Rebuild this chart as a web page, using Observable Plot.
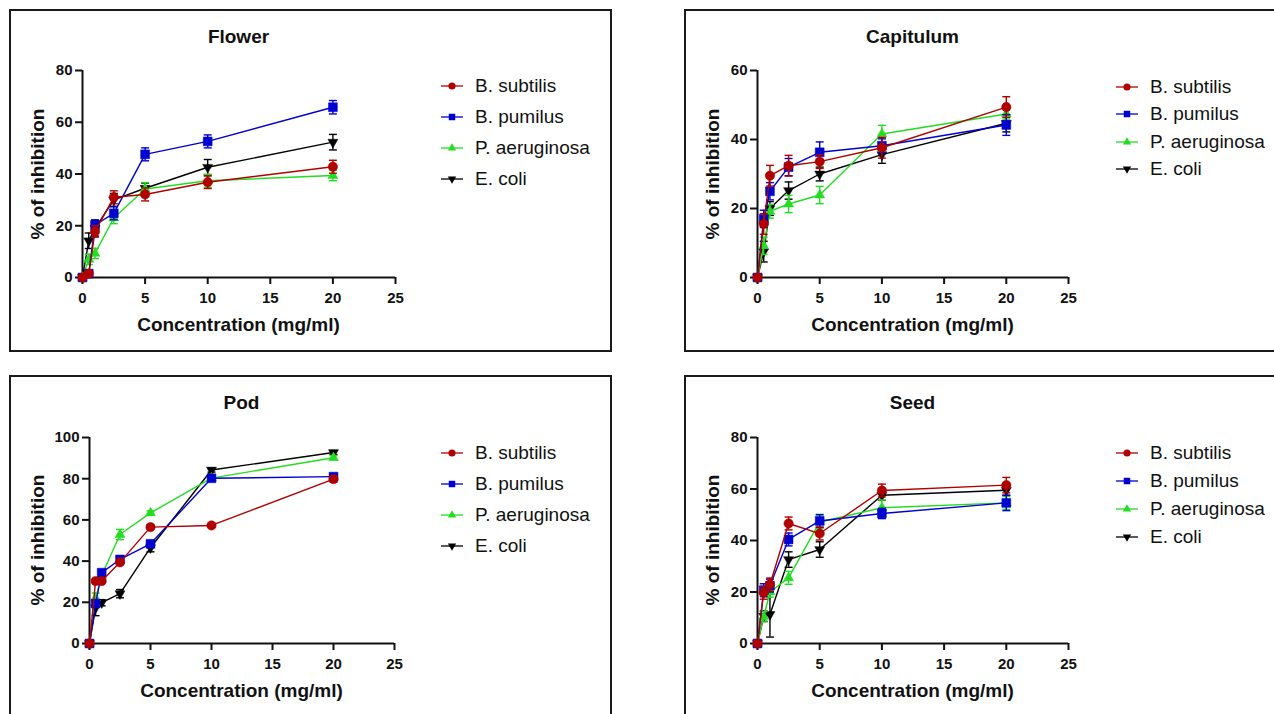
<!DOCTYPE html>
<html>
<head>
<meta charset="utf-8">
<script src="https://cdn.jsdelivr.net/npm/d3@7"></script>
<script src="https://cdn.jsdelivr.net/npm/@observablehq/plot@0.6"></script>
<style>
  body { margin:0; width:1274px; height:714px; overflow:hidden; background:#fff; font-family:"Liberation Sans", Arial, sans-serif; position:relative; }
  .box { position:absolute; border:2px solid #1a1a1a; box-sizing:border-box; width:603px; height:343px; }
  .lbl { position:absolute; white-space:nowrap; color:#111; transform:translate(-50%,-50%); }
  .title { font-weight:bold; font-size:19px; }
  .axt { font-weight:bold; font-size:19px; }
  .leg { position:absolute; white-space:nowrap; font-size:19px; color:#111; transform:translateY(-50%); }
  .sw { position:absolute; transform:translate(-50%,-50%); }
</style>
</head>
<body>
<script>
// ---- data ----
const concentrations = [0, 0.5, 1, 2.5, 5, 10, 20];
const seriesNames = ["B. subtilis", "B. pumilus", "P. aeruginosa", "E. coli"];
const seriesColors = ["#b00000", "#0000d0", "#22dd22", "#000000"];
const panelTitles = ["Flower", "Capitulum", "Pod", "Seed"];
const xTicks = [0, 5, 10, 15, 20, 25];
const xLabel = "Concentration (mg/ml)";
const yLabel = "% of inhibition";

const flowerMean = [
  [0, 1.5, 17.8, 31.0, 32.1, 36.8, 42.8],
  [0, 1.5, 20.3, 24.8, 47.6, 52.6, 65.8],
  [0, 7.0, 9.3, 23.0, 34.2, 37.4, 39.4],
  [0, 14.2, 19.0, 30.0, 34.5, 42.6, 52.3]
];
const flowerSD = [
  [0, 0.8, 2.2, 2.5, 2.5, 2.4, 2.5],
  [0, 0.8, 2.0, 2.5, 2.5, 2.5, 2.6],
  [0, 2.0, 2.0, 2.2, 2.5, 2.5, 2.0],
  [0, 3.0, 3.0, 2.5, 2.0, 3.0, 3.0]
];
const flowerTicks = [0, 20, 40, 60, 80];

const capitulumMean = [
  [0, 15.5, 29.5, 32.4, 33.6, 37.6, 49.4],
  [0, 17.0, 25.0, 32.0, 36.3, 38.2, 44.2],
  [0, 9.2, 19.2, 21.3, 23.9, 41.6, 47.4],
  [0, 7.5, 20.0, 25.2, 30.0, 35.6, 44.7]
];
const capitulumSD = [
  [0, 3.0, 3.0, 3.0, 2.0, 3.0, 3.0],
  [0, 2.5, 2.5, 2.5, 3.0, 2.0, 3.0],
  [0, 2.5, 2.0, 2.5, 2.5, 2.5, 1.5],
  [0, 3.0, 2.0, 2.5, 2.0, 2.5, 2.5]
];
const capitulumTicks = [0, 20, 40, 60];

const podMean = [
  [0, 30.3, 30.3, 39.4, 56.5, 57.3, 79.8],
  [0, 19.4, 34.4, 40.8, 48.4, 80.2, 81.0],
  [0, 22.0, 33.0, 52.9, 63.4, 80.3, 90.2],
  [0, 17.3, 19.8, 24.2, 46.5, 84.2, 92.7]
];
const podSD = [
  [0, 1.0, 1.0, 1.0, 1.0, 1.0, 1.5],
  [0, 1.5, 1.0, 1.0, 1.5, 1.0, 1.0],
  [0, 2.5, 1.0, 2.5, 1.0, 1.0, 1.0],
  [0, 3.8, 1.5, 2.0, 2.0, 1.0, 1.0]
];
const podTicks = [0, 20, 40, 60, 80, 100];

const seedMean = [
  [0, 19.7, 22.9, 46.6, 42.7, 59.4, 61.5],
  [0, 20.7, 22.5, 40.4, 47.6, 50.5, 54.6],
  [0, 10.4, 20.0, 25.5, 47.2, 52.7, 54.6],
  [0, 10.6, 11.3, 32.6, 36.5, 57.6, 59.5]
];
const seedSD = [
  [0, 2.5, 2.5, 2.5, 2.5, 2.5, 3.0],
  [0, 2.5, 2.5, 2.5, 2.5, 2.0, 3.0],
  [0, 2.0, 2.0, 2.5, 2.5, 3.0, 2.5],
  [0, 2.0, 8.8, 3.0, 3.0, 2.0, 2.0]
];
const seedTicks = [0, 20, 40, 60, 80];

// ---- layout ----
const panels = [
  {title: panelTitles[0], mean: flowerMean, sd: flowerSD, ticks: flowerTicks, left: 10, top: 10, ml: 72, mr: 215, mt: 60, mb: 73, legY: [76, 107, 138, 169]},
  {title: panelTitles[1], mean: capitulumMean, sd: capitulumSD, ticks: capitulumTicks, left: 685, top: 10, ml: 72, mr: 217, mt: 60, mb: 73, legY: [77, 104, 132, 159]},
  {title: panelTitles[2], mean: podMean, sd: podSD, ticks: podTicks, left: 10, top: 376, ml: 79, mr: 216, mt: 61, mb: 73, legY: [77, 108, 139, 170]},
  {title: panelTitles[3], mean: seedMean, sd: seedSD, ticks: seedTicks, left: 685, top: 376, ml: 72, mr: 217, mt: 61, mb: 73, legY: [77, 105, 133, 161]}
];
const W = 600, H = 340;

const capSymbol = {draw(ctx, size) { const w = Math.sqrt(size) / 2; ctx.moveTo(-w, 0); ctx.lineTo(w, 0); }};
const triDown = {draw(ctx, size) {
  const s3 = Math.sqrt(3);
  const y = -Math.sqrt(size / (s3 * 3));
  ctx.moveTo(0, -y * 2); ctx.lineTo(-s3 * y, y); ctx.lineTo(s3 * y, y); ctx.closePath();
}};
const symbols = ["circle", "square", "triangle", triDown];
const symR = [4.7, 5.0, 3.7, 3.7];
const legSym = [d3.symbolCircle, d3.symbolSquare, d3.symbolTriangle, triDown];
const legSize = [40, 42, 30, 30];

function addText(cls, txt, x, y, extra) {
  const d = document.createElement("div");
  d.className = cls;
  d.textContent = txt;
  d.style.left = x + "px";
  d.style.top = y + "px";
  if (extra) d.style.transform = extra;
  document.body.appendChild(d);
}

for (const p of panels) {
  const box = document.createElement("div");
  box.className = "box";
  box.style.left = (p.left - 1) + "px";
  box.style.top = (p.top - 1) + "px";
  document.body.appendChild(box);

  const rows = [];
  p.mean.forEach((vals, si) => vals.forEach((v, i) => rows.push({si, x: concentrations[i], y: v, sd: p.sd[si][i]})));
  const yMax = p.ticks[p.ticks.length - 1];

  const marks = [
    Plot.ruleY([0], {strokeWidth: 2, stroke: "#111"}),
    Plot.ruleX([0], {strokeWidth: 2, stroke: "#111"}),
    Plot.axisX({ticks: xTicks, tickSize: 7, tickPadding: 8, strokeWidth: 2, stroke: "#111", label: null, fill: "#111"}),
    Plot.axisY({ticks: p.ticks, tickSize: 7, tickPadding: 3, strokeWidth: 2, stroke: "#111", label: null, fill: "#111"})
  ];
  for (const si of [3, 2, 1, 0]) {
    const d = rows.filter(r => r.si === si);
    const e = d.filter(r => r.sd > 0);
    const c = seriesColors[si];
    marks.push(Plot.line(d, {x: "x", y: "y", stroke: c, strokeWidth: 1.4}));
    marks.push(Plot.ruleX(e, {x: "x", y1: r => r.y - r.sd, y2: r => r.y + r.sd, stroke: c, strokeWidth: 1.4}));
    marks.push(Plot.dot(e, {x: "x", y: r => r.y - r.sd, symbol: capSymbol, r: 4.5, fill: "none", stroke: c, strokeWidth: 1.4}));
    marks.push(Plot.dot(e, {x: "x", y: r => r.y + r.sd, symbol: capSymbol, r: 4.5, fill: "none", stroke: c, strokeWidth: 1.4}));
    marks.push(Plot.dot(d, {x: "x", y: "y", symbol: symbols[si], r: symR[si], fill: c, stroke: c, strokeWidth: 0.5}));
  }

  const svg = Plot.plot({
    width: W, height: H,
    marginLeft: p.ml, marginRight: p.mr, marginTop: p.mt, marginBottom: p.mb,
    x: {domain: [0, 25]},
    y: {domain: [0, yMax]},
    style: {fontFamily: "'Liberation Sans', Arial, sans-serif", fontSize: "15px", fontWeight: "bold", background: "transparent", overflow: "visible", color: "#111"},
    marks
  });
  svg.style.position = "absolute";
  svg.style.left = p.left + "px";
  svg.style.top = p.top + "px";
  document.body.appendChild(svg);

  const cx = p.left + (p.ml + (W - p.mr)) / 2;
  const cy = p.top + (p.mt + (H - p.mb)) / 2;
  addText("lbl title", p.title, cx, p.top + 27);
  addText("lbl axt", xLabel, cx, p.top + 315);
  addText("lbl axt", yLabel, p.left + 28, cy, "translate(-50%,-50%) rotate(-90deg)");

  // legend
  seriesNames.forEach((name, si) => {
    const c = seriesColors[si];
    const y = p.top + p.legY[si];
    const sw = document.createElement("div");
    sw.className = "sw";
    sw.style.left = (p.left + 441.5) + "px";
    sw.style.top = y + "px";
    const path = d3.symbol(legSym[si], legSize[si])();
    sw.innerHTML = `<svg width="24" height="14" style="display:block"><line x1="1" y1="7" x2="23" y2="7" stroke="${c}" stroke-width="1.3"/><path d="${path}" transform="translate(12,7)" fill="${c}"/></svg>`;
    document.body.appendChild(sw);
    const t = document.createElement("div");
    t.className = "leg";
    t.textContent = name;
    t.style.left = (p.left + 465) + "px";
    t.style.top = y + "px";
    document.body.appendChild(t);
  });
}
</script>
</body>
</html>
